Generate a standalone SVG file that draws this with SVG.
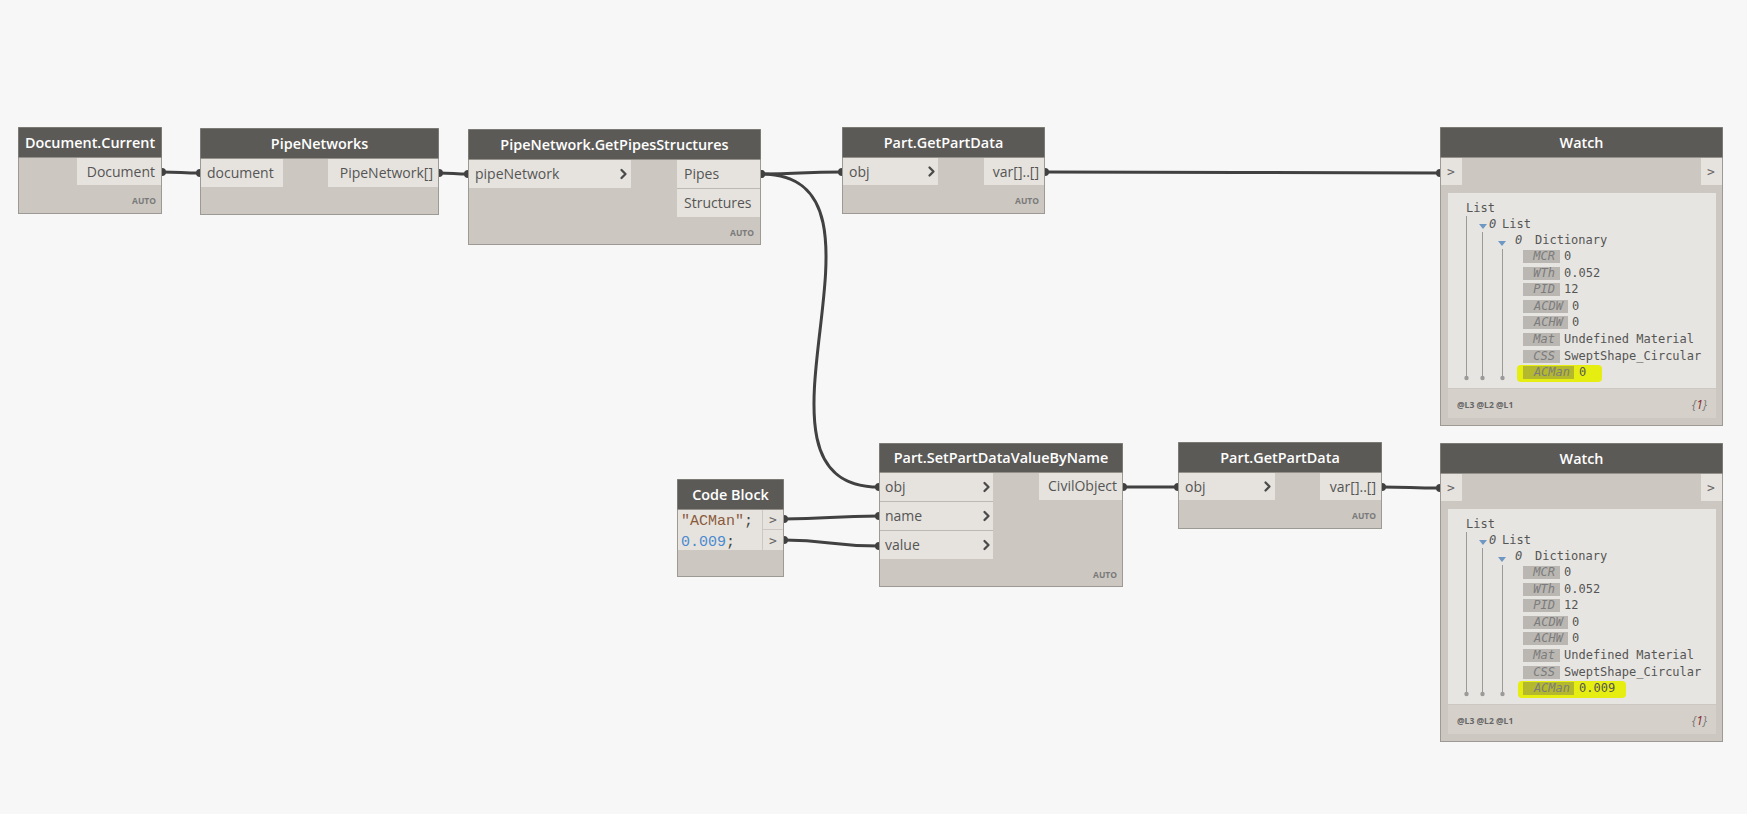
<svg xmlns="http://www.w3.org/2000/svg" xmlns:xlink="http://www.w3.org/1999/xlink" width="1747" height="814" viewBox="0 0 1747 814">
<style>
.bg{fill:#f7f7f7}
.body{fill:#ccc8c1;stroke:#9d9a95;stroke-width:1}
.head{fill:#5c5a57}
.port{fill:#e6e3de}
.sep{stroke:#bdb9b2;stroke-width:1}
.title{font-family:"Open Sans","Noto Sans",sans-serif;font-weight:600;font-size:14.4px;fill:#ffffff;text-anchor:middle}
.lbl{font-family:"Open Sans","Noto Sans",sans-serif;font-size:14px;fill:#555555}
.auto{font-family:"Open Sans","Noto Sans",sans-serif;font-weight:700;font-size:8.5px;fill:#7a7a7a;text-anchor:end}
.chev{fill:none;stroke:#4a4a4a;stroke-width:2.3;stroke-linecap:round;stroke-linejoin:round}
.wire{fill:none;stroke:#414141;stroke-width:3}
.mono{font-family:"DejaVu Sans Mono","Liberation Mono",monospace;font-size:12px;fill:#555555}
.key{font-family:"DejaVu Sans Mono","Liberation Mono",monospace;font-size:12px;fill:#7c7c7c;font-style:italic;text-anchor:end}
.kbox{fill:#bab7b2}
.tree{stroke:#9a9a9a;stroke-width:1}
.dot{fill:#9a9a9a}
.tri{fill:#6f97c4}
.wgt{font-family:"DejaVu Sans Mono","Liberation Mono",monospace;font-size:13px;fill:#666666}
.brace{font-family:"Open Sans","Noto Sans",sans-serif;font-size:12px;fill:#777777;font-style:italic;text-anchor:end}
.foot{font-family:"Open Sans","Noto Sans",sans-serif;font-weight:700;font-size:8.5px;fill:#666666}
.code{font-family:"Liberation Mono","DejaVu Sans Mono",monospace;font-size:15px}
</style>
<defs>
<marker id="nub" viewBox="-4 -4 8 8" markerWidth="8" markerHeight="8" refX="0" refY="0" markerUnits="userSpaceOnUse">
<circle r="4" fill="#414141"/>
</marker>
<path id="ch" class="chev" d="M-2.5,-4 L1.5,0 L-2.5,4"/>
</defs>
<rect class="bg" x="0" y="0" width="1747" height="814"/>

<g id="connectors">
<path class="wire" marker-start="url(#nub)" marker-end="url(#nub)" d="M162,172 C180,172 182,173 200,173"/>
<path class="wire" marker-start="url(#nub)" marker-end="url(#nub)" d="M439,173 C452,173 455,174 468,174"/>
<path class="wire" marker-start="url(#nub)" marker-end="url(#nub)" d="M761,174 C800,174 800,172 842,172"/>
<path class="wire" marker-start="url(#nub)" marker-end="url(#nub)" d="M761,174 C916,174 724,487 879,487"/>
<path class="wire" marker-start="url(#nub)" marker-end="url(#nub)" d="M1045,172 C1240,172 1240,173 1440,173"/>
<path class="wire" marker-start="url(#nub)" marker-end="url(#nub)" d="M784,519 C830,519 830,516 879,516"/>
<path class="wire" marker-start="url(#nub)" marker-end="url(#nub)" d="M784,540 C830,540 830,546 879,546"/>
<path class="wire" marker-start="url(#nub)" marker-end="url(#nub)" d="M1123,487 C1150,487 1150,487 1178,487"/>
<path class="wire" marker-start="url(#nub)" marker-end="url(#nub)" d="M1382,487 C1410,487 1410,488 1440,488"/>
</g>

<g id="node-document-current">
<rect class="body" x="18.5" y="127.5" width="143" height="86"/>
<rect class="head" x="18.5" y="127.5" width="143" height="30"/>
<text class="title" x="90" y="147.5">Document.Current</text>
<rect class="port" x="77" y="158" width="84" height="27"/>
<text class="lbl" x="155" y="176.5" text-anchor="end">Document</text>
<text class="auto" x="156" y="204">AUTO</text>
</g>

<g id="node-pipenetworks">
<rect class="body" x="200.5" y="128.5" width="238" height="86"/>
<rect class="head" x="200.5" y="128.5" width="238" height="30"/>
<text class="title" x="319.5" y="148.5">PipeNetworks</text>
<rect class="port" x="201" y="159" width="82" height="28"/>
<text class="lbl" x="207" y="178">document</text>
<rect class="port" x="328" y="159" width="110" height="28"/>
<text class="lbl" x="433" y="178" text-anchor="end">PipeNetwork[]</text>
</g>

<g id="node-getpipesstructures">
<rect class="body" x="468.5" y="129.5" width="292" height="115"/>
<rect class="head" x="468.5" y="129.5" width="292" height="30"/>
<text class="title" x="614.5" y="149.5">PipeNetwork.GetPipesStructures</text>
<rect class="port" x="469" y="160" width="162" height="28"/>
<text class="lbl" x="475" y="179">pipeNetwork</text>
<use href="#ch" x="624" y="174"/>
<rect class="port" x="677" y="160" width="83" height="28"/>
<text class="lbl" x="684" y="179">Pipes</text>
<rect class="port" x="677" y="189" width="83" height="28"/>
<line class="sep" x1="677" y1="188.5" x2="760" y2="188.5"/>
<text class="lbl" x="684" y="208">Structures</text>
<text class="auto" x="754" y="236">AUTO</text>
</g>

<g id="node-getpartdata-1">
<rect class="body" x="842.5" y="127.5" width="202" height="86"/>
<rect class="head" x="842.5" y="127.5" width="202" height="30"/>
<text class="title" x="943.5" y="147.5">Part.GetPartData</text>
<rect class="port" x="843" y="158" width="95" height="27"/>
<text class="lbl" x="849" y="176.5">obj</text>
<use href="#ch" x="932" y="171.5"/>
<rect class="port" x="984" y="158" width="60" height="27"/>
<text class="lbl" x="1039" y="176.5" text-anchor="end">var[]..[]</text>
<text class="auto" x="1039" y="204">AUTO</text>
</g>

<g id="node-watch-1">
<rect class="body" x="1440.5" y="127.5" width="282" height="298"/>
<rect class="head" x="1440.5" y="127.5" width="282" height="30"/>
<text class="title" x="1581.5" y="147.5">Watch</text>
<rect class="port" x="1441" y="158" width="21" height="27"/>
<text class="wgt" x="1447" y="176">&gt;</text>
<rect class="port" x="1701" y="158" width="21" height="27"/>
<text class="wgt" x="1707" y="176">&gt;</text>
<rect fill="#e7e5e1" x="1448" y="193" width="268" height="195"/>
<rect fill="#d5d1ca" x="1448" y="389" width="268" height="29"/>
<text class="mono" x="1466" y="212">List</text>
<line class="tree" x1="1466.5" y1="216" x2="1466.5" y2="378"/>
<path class="tri" d="M1479,224 L1487,224 L1483,229 Z"/>
<text class="mono" x="1489" y="228" font-style="italic">0</text>
<text class="mono" x="1502" y="228">List</text>
<line class="tree" x1="1482.5" y1="232" x2="1482.5" y2="378"/>
<path class="tri" d="M1498,241 L1506,241 L1502,246 Z"/>
<text class="mono" x="1515" y="244" font-style="italic">0</text>
<text class="mono" x="1535" y="244">Dictionary</text>
<line class="tree" x1="1502.5" y1="249" x2="1502.5" y2="378"/>
<circle class="dot" cx="1466.5" cy="378" r="2.2"/>
<circle class="dot" cx="1482.5" cy="378" r="2.2"/>
<circle class="dot" cx="1502.5" cy="378" r="2.2"/>
<rect class="kbox" x="1523" y="250" width="37" height="13"/>
<text class="key" x="1555" y="260">MCR</text>
<text class="mono" x="1564" y="260">0</text>
<rect class="kbox" x="1523" y="267" width="37" height="13"/>
<text class="key" x="1555" y="277">WTh</text>
<text class="mono" x="1564" y="277">0.052</text>
<rect class="kbox" x="1523" y="283" width="37" height="13"/>
<text class="key" x="1555" y="293">PID</text>
<text class="mono" x="1564" y="293">12</text>
<rect class="kbox" x="1523" y="300" width="45" height="13"/>
<text class="key" x="1563" y="310">ACDW</text>
<text class="mono" x="1572" y="310">0</text>
<rect class="kbox" x="1523" y="316" width="45" height="13"/>
<text class="key" x="1563" y="326">ACHW</text>
<text class="mono" x="1572" y="326">0</text>
<rect class="kbox" x="1523" y="333" width="37" height="13"/>
<text class="key" x="1555" y="343">Mat</text>
<text class="mono" x="1564" y="343">Undefined Material</text>
<rect class="kbox" x="1523" y="350" width="37" height="13"/>
<text class="key" x="1555" y="360">CSS</text>
<text class="mono" x="1564" y="360">SweptShape_Circular</text>
<rect fill="#e5ee10" x="1517" y="365" width="85" height="17" rx="4"/>
<rect fill="#b4b82c" x="1523" y="366" width="51" height="13"/>
<text class="key" x="1570" y="376" fill="#6e7030">ACMan</text>
<text class="mono" x="1579" y="376">0</text>
<text class="foot" x="1457" y="408">@L3 @L2 @L1</text>
<text class="brace" x="1707" y="409">{<tspan fill="#8a2a2a">1</tspan>}</text>
</g>

<g id="node-code-block">
<rect class="body" x="677.5" y="479.5" width="106" height="97"/>
<rect class="head" x="677.5" y="479.5" width="106" height="30"/>
<text class="title" x="730.5" y="499.5">Code Block</text>
<rect class="port" x="678" y="510" width="84" height="40"/>
<rect class="port" x="763" y="510" width="20" height="19"/>
<rect class="port" x="763" y="530" width="20" height="20"/>
<text class="wgt" x="769" y="524">&gt;</text>
<text class="wgt" x="769" y="545">&gt;</text>
<text class="code" x="681" y="525"><tspan fill="#8a5a3c">"ACMan"</tspan><tspan fill="#444444">;</tspan></text>
<text class="code" x="681" y="546"><tspan fill="#4b8ad0">0.009</tspan><tspan fill="#444444">;</tspan></text>
</g>

<g id="node-setpartdatavaluebyname">
<rect class="body" x="879.5" y="443.5" width="243" height="143"/>
<rect class="head" x="879.5" y="443.5" width="243" height="29"/>
<text class="title" x="1001" y="463">Part.SetPartDataValueByName</text>
<rect class="port" x="880" y="473" width="113" height="28"/>
<rect class="port" x="880" y="502" width="113" height="28"/>
<rect class="port" x="880" y="531" width="113" height="28"/>
<line class="sep" x1="880" y1="501.5" x2="993" y2="501.5"/>
<line class="sep" x1="880" y1="530.5" x2="993" y2="530.5"/>
<text class="lbl" x="885" y="492">obj</text>
<text class="lbl" x="885" y="521">name</text>
<text class="lbl" x="885" y="550">value</text>
<use href="#ch" x="987" y="487"/>
<use href="#ch" x="987" y="516"/>
<use href="#ch" x="987" y="545"/>
<rect class="port" x="1039" y="473" width="83" height="27"/>
<text class="lbl" x="1117" y="491" text-anchor="end">CivilObject</text>
<text class="auto" x="1117" y="578">AUTO</text>
</g>

<g id="node-getpartdata-2">
<rect class="body" x="1178.5" y="442.5" width="203" height="86"/>
<rect class="head" x="1178.5" y="442.5" width="203" height="30"/>
<text class="title" x="1280" y="462.5">Part.GetPartData</text>
<rect class="port" x="1179" y="473" width="96" height="27"/>
<text class="lbl" x="1185" y="491.5">obj</text>
<use href="#ch" x="1268" y="486.5"/>
<rect class="port" x="1320" y="473" width="61" height="27"/>
<text class="lbl" x="1376" y="491.5" text-anchor="end">var[]..[]</text>
<text class="auto" x="1376" y="519">AUTO</text>
</g>

<g id="node-watch-2" transform="translate(0,316)">
<rect class="body" x="1440.5" y="127.5" width="282" height="298"/>
<rect class="head" x="1440.5" y="127.5" width="282" height="30"/>
<text class="title" x="1581.5" y="147.5">Watch</text>
<rect class="port" x="1441" y="158" width="21" height="27"/>
<text class="wgt" x="1447" y="176">&gt;</text>
<rect class="port" x="1701" y="158" width="21" height="27"/>
<text class="wgt" x="1707" y="176">&gt;</text>
<rect fill="#e7e5e1" x="1448" y="193" width="268" height="195"/>
<rect fill="#d5d1ca" x="1448" y="389" width="268" height="29"/>
<text class="mono" x="1466" y="212">List</text>
<line class="tree" x1="1466.5" y1="216" x2="1466.5" y2="378"/>
<path class="tri" d="M1479,224 L1487,224 L1483,229 Z"/>
<text class="mono" x="1489" y="228" font-style="italic">0</text>
<text class="mono" x="1502" y="228">List</text>
<line class="tree" x1="1482.5" y1="232" x2="1482.5" y2="378"/>
<path class="tri" d="M1498,241 L1506,241 L1502,246 Z"/>
<text class="mono" x="1515" y="244" font-style="italic">0</text>
<text class="mono" x="1535" y="244">Dictionary</text>
<line class="tree" x1="1502.5" y1="249" x2="1502.5" y2="378"/>
<circle class="dot" cx="1466.5" cy="378" r="2.2"/>
<circle class="dot" cx="1482.5" cy="378" r="2.2"/>
<circle class="dot" cx="1502.5" cy="378" r="2.2"/>
<rect class="kbox" x="1523" y="250" width="37" height="13"/>
<text class="key" x="1555" y="260">MCR</text>
<text class="mono" x="1564" y="260">0</text>
<rect class="kbox" x="1523" y="267" width="37" height="13"/>
<text class="key" x="1555" y="277">WTh</text>
<text class="mono" x="1564" y="277">0.052</text>
<rect class="kbox" x="1523" y="283" width="37" height="13"/>
<text class="key" x="1555" y="293">PID</text>
<text class="mono" x="1564" y="293">12</text>
<rect class="kbox" x="1523" y="300" width="45" height="13"/>
<text class="key" x="1563" y="310">ACDW</text>
<text class="mono" x="1572" y="310">0</text>
<rect class="kbox" x="1523" y="316" width="45" height="13"/>
<text class="key" x="1563" y="326">ACHW</text>
<text class="mono" x="1572" y="326">0</text>
<rect class="kbox" x="1523" y="333" width="37" height="13"/>
<text class="key" x="1555" y="343">Mat</text>
<text class="mono" x="1564" y="343">Undefined Material</text>
<rect class="kbox" x="1523" y="350" width="37" height="13"/>
<text class="key" x="1555" y="360">CSS</text>
<text class="mono" x="1564" y="360">SweptShape_Circular</text>
<rect fill="#e5ee10" x="1518" y="365" width="108" height="17" rx="4"/>
<rect fill="#b4b82c" x="1523" y="366" width="51" height="13"/>
<text class="key" x="1570" y="376" fill="#6e7030">ACMan</text>
<text class="mono" x="1579" y="376">0.009</text>
<text class="foot" x="1457" y="408">@L3 @L2 @L1</text>
<text class="brace" x="1707" y="409">{<tspan fill="#8a2a2a">1</tspan>}</text>
</g>
</svg>
